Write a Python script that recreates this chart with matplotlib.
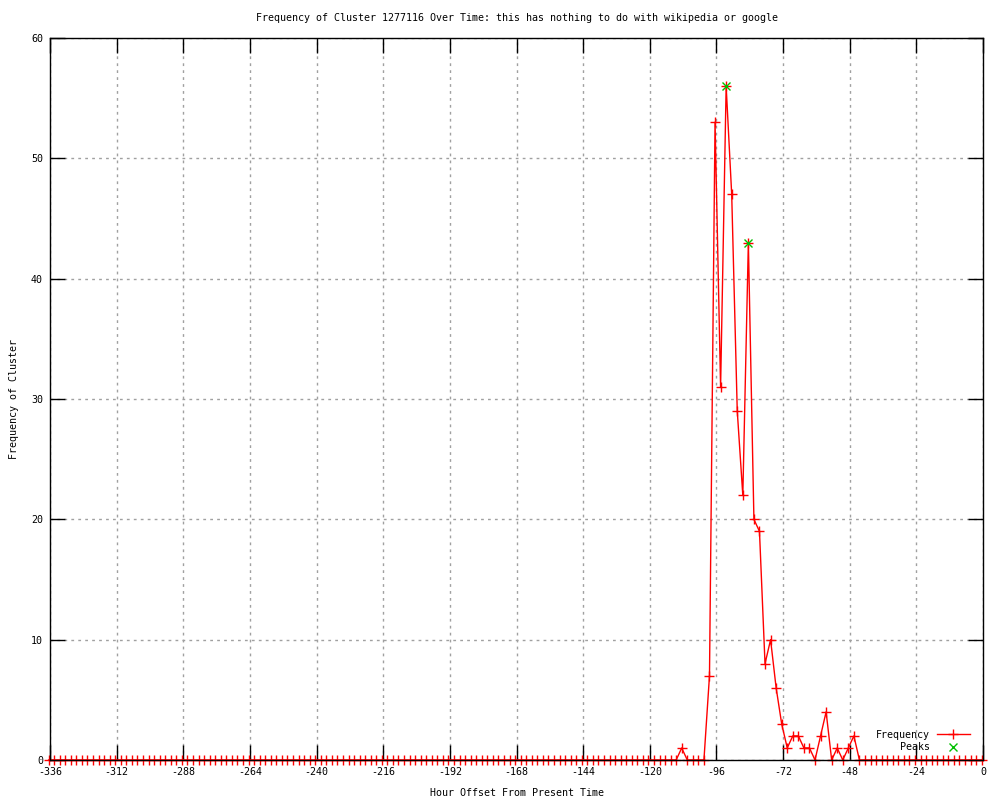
import numpy as np
import matplotlib
matplotlib.use("Agg")
import matplotlib.pyplot as plt

# hourly bins (2 h wide), offsets from present time
hours = np.arange(-336.5, 0, 2)
freq = ([0] * 114
        + [1, 0, 0, 0, 0, 7, 53, 31, 56, 47, 29, 22, 43, 20, 19, 8,
           10, 6, 3, 1, 2, 2, 1, 1, 0, 2, 4, 0, 1, 0, 1, 2]
        + [0] * 23)

peak_hours = [-92.5, -84.5]
peak_freq = [56, 43]

x_ticks = list(range(-336, 1, 24))
y_ticks = list(range(0, 61, 10))

plt.rcParams['font.family'] = ['DejaVu Sans Mono']
plt.rcParams['font.size'] = 7.2
plt.rcParams['axes.unicode_minus'] = False

fig = plt.figure(figsize=(10, 8), dpi=100)
ax = fig.add_axes([0.05, 0.05, 0.933, 0.9025])

ax.plot(hours, freq, color='#ff0000', lw=1, marker='+', ms=7, mew=1,
        label='Frequency', clip_on=False, zorder=2.2)
ax.plot(peak_hours, peak_freq, ls='none', color='#00c000', marker='x',
        ms=6, mew=1, label='Peaks', zorder=4)

ax.set_xlim(-336, 0)
ax.set_ylim(0, 60)
ax.set_xticks(x_ticks)
ax.set_yticks(y_ticks)
ax.tick_params(direction='in', length=10.5, width=1, top=True, right=True,
               labelsize=7.2, pad=5, color='black')
ax.grid(True, color='#a0a0a0', ls=(0, (2, 3)), lw=1)
for s in ax.spines.values():
    s.set_linewidth(1)
    s.set_zorder(3)

fig.text(0.5165, 0.9775, "Frequency of Cluster 1277116 Over Time: this has "
         "nothing to do with wikipedia or google", ha='center', va='center')
fig.text(0.014, 0.501, "Frequency of Cluster", rotation=90,
         ha='center', va='center')
fig.text(0.5165, 0.009, "Hour Offset From Present Time",
         ha='center', va='center')

ax.legend(loc='lower right', bbox_to_anchor=(0.986, 0.011), frameon=False,
          markerfirst=False, handlelength=3.3, handletextpad=0.7,
          labelspacing=0.25, borderpad=0, borderaxespad=0, fontsize=7.2)

fig.savefig('out.png', dpi=100)
